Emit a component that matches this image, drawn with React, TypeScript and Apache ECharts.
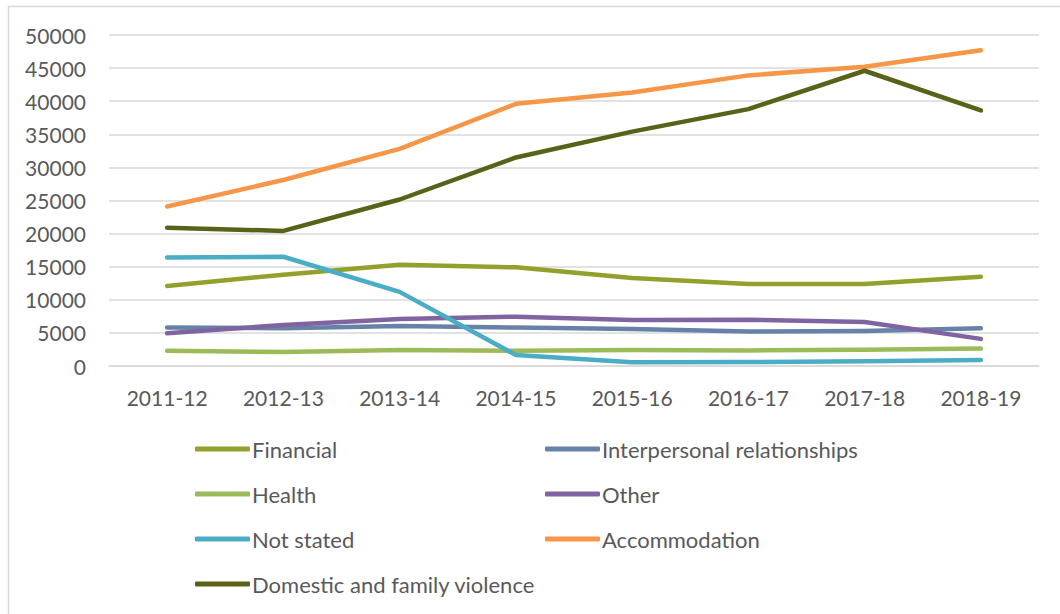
import React, { useEffect, useRef } from "react";
import * as echarts from "echarts";

const categories = ["2011-12", "2012-13", "2013-14", "2014-15", "2015-16", "2016-17", "2017-18", "2018-19"];

const financial = [12100, 13800, 15300, 14900, 13300, 12400, 12400, 13500];
const interpersonal = [5800, 5700, 6050, 5800, 5600, 5200, 5300, 5700];
const health = [2300, 2100, 2400, 2300, 2400, 2350, 2450, 2650];
const other = [4950, 6200, 7100, 7450, 6950, 7000, 6650, 4100];
const notStated = [16400, 16500, 11200, 1650, 560, 600, 700, 900];
const accommodation = [24100, 28100, 32800, 39600, 41300, 43900, 45200, 47700];
const domesticViolence = [20900, 20400, 25150, 31500, 35400, 38800, 44600, 38600];

const seriesNames = [
  "Financial",
  "Interpersonal relationships",
  "Health",
  "Other",
  "Not stated",
  "Accommodation",
  "Domestic and family violence",
];
const seriesData = [financial, interpersonal, health, other, notStated, accommodation, domesticViolence];
const seriesColors = ["#93A02B", "#6782A8", "#9BBB59", "#8064A2", "#4BACC6", "#F79646", "#5A6219"];

const FONT = "Lato, 'Noto Sans', sans-serif";

export default function App() {
  const ref = useRef<HTMLDivElement>(null);
  useEffect(() => {
    if (!ref.current) return;
    const chart = echarts.init(ref.current, null, { renderer: "svg" });
    const legendText = { color: "#595959", fontSize: 22, fontFamily: FONT, padding: [0, 0, 0, -3] };
    const legendBase = {
      orient: "vertical",
      top: 433,
      padding: 5,
      itemGap: 23,
      itemWidth: 55,
      itemHeight: 5,
      icon: "roundRect",
      textStyle: legendText,
    };
    chart.setOption({
      animation: false,
      backgroundColor: "#ffffff",
      grid: { left: 109, right: 21, top: 35, bottom: 248, containLabel: false },
      xAxis: {
        type: "category",
        data: categories,
        boundaryGap: true,
        axisLine: { lineStyle: { color: "#d9d9d9", width: 1.5 } },
        axisTick: { show: false },
        axisLabel: { color: "#595959", fontSize: 21, fontFamily: FONT, margin: 21 },
      },
      yAxis: {
        type: "value",
        min: 0,
        max: 50000,
        interval: 5000,
        axisLine: { show: false },
        axisTick: { show: false },
        axisLabel: {
          color: "#595959",
          fontSize: 21,
          fontFamily: FONT,
          margin: 23,
          formatter: (v: number) => String(v),
        },
        splitLine: { lineStyle: { color: "#d9d9d9", width: 1.5 } },
      },
      legend: [
        { ...legendBase, left: 190, data: ["Financial", "Health", "Not stated", "Domestic and family violence"] },
        { ...legendBase, left: 540, data: ["Interpersonal relationships", "Other", "Accommodation"] },
      ],
      graphic: [
        {
          type: "rect",
          shape: { x: 8.5, y: 6.5, width: 1080, height: 640 },
          style: { fill: "none", stroke: "#d9d9d9", lineWidth: 1.5 },
          silent: true,
        },
      ],
      series: seriesNames.map((name, i) => ({
        name,
        type: "line",
        data: seriesData[i],
        symbol: "none",
        color: seriesColors[i],
        lineStyle: { width: 4.5, color: seriesColors[i], cap: "round", join: "round" },
      })),
    });
    return () => chart.dispose();
  }, []);
  return <div ref={ref} style={{ width: 1060, height: 614, position: "absolute", left: 0, top: 0 }} />;
}
